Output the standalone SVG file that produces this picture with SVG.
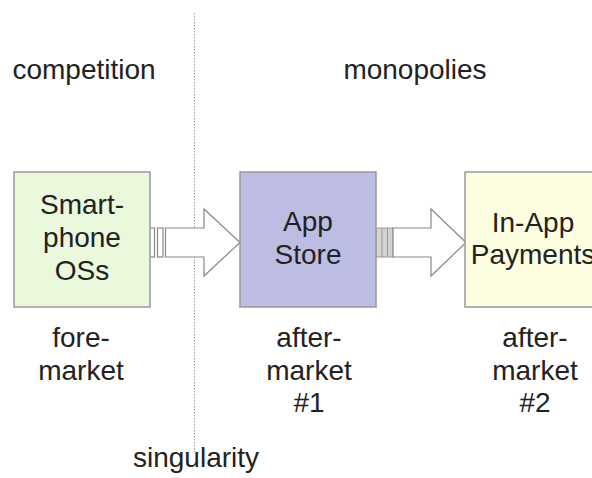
<svg xmlns="http://www.w3.org/2000/svg" width="592" height="478" viewBox="0 0 592 478">
<style>
text{font-family:"Liberation Sans",Arial,sans-serif;font-size:28px;fill:#222;text-anchor:middle}
.box{stroke:#999;stroke-width:1.5}
.arr{fill:#fff;stroke:#888;stroke-width:1.2}
.strip{fill:#fff;stroke:#888;stroke-width:1.2}
.strip2{fill:#d4d4d4;stroke:#999;stroke-width:1}
</style>
<rect width="592" height="478" fill="#fff"/>
<text x="84" y="79">competition</text>
<text x="415" y="79">monopolies</text>
<line x1="194.5" y1="13" x2="194.5" y2="452" stroke="#999" stroke-width="1" stroke-dasharray="1.5,1.5"/>
<text x="196" y="467">singularity</text>
<g id="connectors">
<g id="arrow1">
<rect class="strip" x="149" y="228" width="5.5" height="29"/>
<rect class="strip" x="157.5" y="228" width="5.5" height="29"/>
<path class="arr" d="M165.5 228 H204 V209 L240 242.5 L204 276 V257 H165.5 Z"/>
</g>
<g id="arrow2">
<rect class="strip2" x="376" y="228" width="17" height="29"/>
<line x1="382" y1="228" x2="382" y2="257" stroke="#999" stroke-width="1"/>
<line x1="387.5" y1="228" x2="387.5" y2="257" stroke="#999" stroke-width="1"/>
<path class="arr" d="M393 228 H431 V209 L466 242.5 L431 276 V257 H393 Z"/>
</g>
</g>
<g id="node-os">
<rect class="box" x="14" y="172" width="136" height="135" fill="#eaf8dc"/>
<text x="82" y="214">Smart-</text>
<text x="82" y="247">phone</text>
<text x="82" y="280">OSs</text>
</g>
<g id="node-appstore">
<rect class="box" x="240" y="172" width="136" height="135" fill="#bdbde3"/>
<text x="308" y="231">App</text>
<text x="308" y="264">Store</text>
</g>
<g id="node-inapp">
<rect class="box" x="465" y="172" width="136" height="135" fill="#fdfddf"/>
<text x="533" y="232">In-App</text>
<text x="533" y="264">Payments</text>
</g>
<g id="label-fore">
<text x="81" y="347">fore-</text>
<text x="81" y="380">market</text>
</g>
<g id="label-after1">
<text x="309" y="347">after-</text>
<text x="309" y="380">market</text>
<text x="309" y="412">#1</text>
</g>
<g id="label-after2">
<text x="535" y="347">after-</text>
<text x="535" y="380">market</text>
<text x="535" y="412">#2</text>
</g>
</svg>
